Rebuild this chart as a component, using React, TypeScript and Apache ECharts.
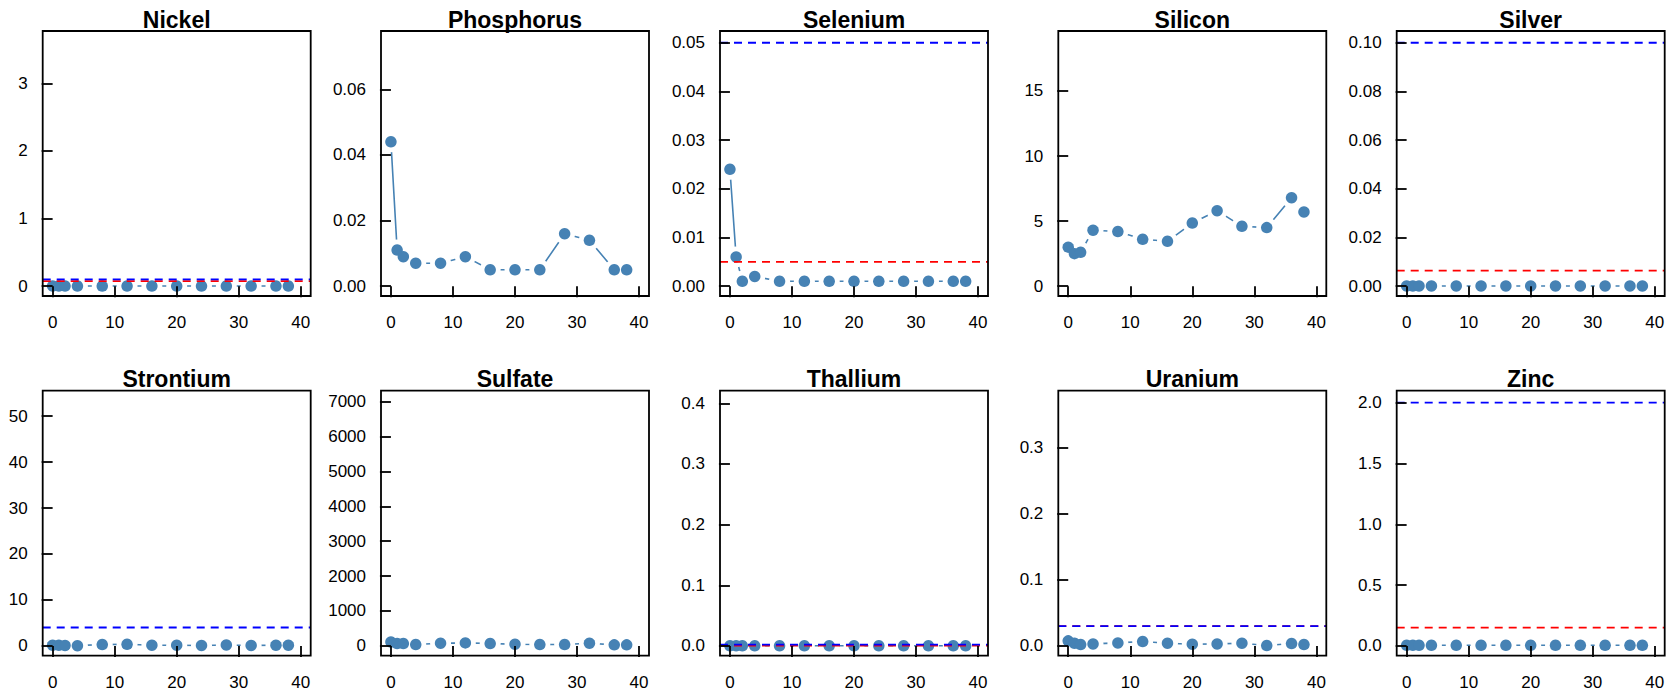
import React, { useEffect, useRef } from "react";
import * as echarts from "echarts";

// Sampling days (x)
const days = [0, 1, 2, 4, 8, 12, 16, 20, 24, 28, 32, 36, 38];
const xTicks = [0, 10, 20, 30, 40];

const analytes = [
  "Nickel", "Phosphorus", "Selenium", "Silicon", "Silver",
  "Strontium", "Sulfate", "Thallium", "Uranium", "Zinc",
];

// Concentrations per analyte (one value per day)
const nickel = [0.003, 0.002, 0.002, 0.002, 0.002, 0.002, 0.002, 0.002, 0.002, 0.002, 0.002, 0.002, 0.002];
const phosphorus = [0.044, 0.011, 0.009, 0.007, 0.007, 0.009, 0.005, 0.005, 0.005, 0.016, 0.014, 0.005, 0.005];
const selenium = [0.024, 0.006, 0.001, 0.002, 0.001, 0.001, 0.001, 0.001, 0.001, 0.001, 0.001, 0.001, 0.001];
const silicon = [3.0, 2.5, 2.6, 4.3, 4.2, 3.6, 3.45, 4.85, 5.8, 4.6, 4.5, 6.8, 5.7];
const silver = [0.0001, 0.0001, 0.0001, 0.0001, 0.0001, 0.0001, 0.0001, 0.0001, 0.0001, 0.0001, 0.0001, 0.0001, 0.0001];
const strontium = [0.15, 0.15, 0.1, 0.05, 0.3, 0.35, 0.15, 0.15, 0.1, 0.2, 0.1, 0.15, 0.15];
const sulfate = [114, 67, 67, 38, 76, 86, 67, 48, 38, 38, 76, 29, 29];
const thallium = [0.0001, 0.0001, 0.0001, 0.0001, 0.0001, 0.0001, 0.0001, 0.0001, 0.0001, 0.0001, 0.0001, 0.0001, 0.0001];
const uranium = [0.0076, 0.004, 0.002, 0.003, 0.0045, 0.0066, 0.004, 0.0025, 0.003, 0.004, 0.0005, 0.0035, 0.002];
const zinc = [0.005, 0.005, 0.005, 0.005, 0.005, 0.005, 0.005, 0.005, 0.005, 0.005, 0.005, 0.005, 0.005];

const seriesValues = [nickel, phosphorus, selenium, silicon, silver, strontium, sulfate, thallium, uranium, zinc];

// Reference limits (dashed lines)
const blueLimits = [0.1, null, 0.05, null, 0.1, 4, null, 0.002, 0.03, 2.0];
const redLimits = [0.074, null, 0.005, null, 0.0064, null, null, 0.0003, 0.03, 0.15];

// Upper data limit of each y axis, and tick labels
const yUpper = [3.63, 0.0748, 0.0504, 18.85, 0.1008, 53.4, 7033, 0.4047, 0.371, 2.018];
const yTicks = [
  [0, 1, 2, 3],
  [0, 0.02, 0.04, 0.06],
  [0, 0.01, 0.02, 0.03, 0.04, 0.05],
  [0, 5, 10, 15],
  [0, 0.02, 0.04, 0.06, 0.08, 0.1],
  [0, 10, 20, 30, 40, 50],
  [0, 1000, 2000, 3000, 4000, 5000, 6000, 7000],
  [0, 0.1, 0.2, 0.3, 0.4],
  [0, 0.1, 0.2, 0.3],
  [0, 0.5, 1.0, 1.5, 2.0],
];
const yDecimals = [0, 2, 2, 0, 2, 0, 0, 1, 1, 1];

const X_MIN = -1.6;
const X_MAX = 41.6;
const colLeft = [42.7, 381, 720, 1058.3, 1396.7];
const rowTop = [31, 390.7];
const PW = 268;
const PH = 265;
const FONT = "'Liberation Sans', Arial, Helvetica, sans-serif";
const STEEL = "#4682B4";

export default function App() {
  const ref = useRef<HTMLDivElement>(null);
  useEffect(() => {
    if (!ref.current) return;
    const chart = echarts.init(ref.current, undefined, { renderer: "svg" });
    const grids: any[] = [];
    const xAxes: any[] = [];
    const yAxes: any[] = [];
    const series: any[] = [];
    const graphics: any[] = [];

    analytes.forEach((name, i) => {
      const r = Math.floor(i / 5);
      const c = i % 5;
      const left = colLeft[c];
      const top = rowTop[r];
      grids.push({
        left, top, width: PW, height: PH,
        show: false, containLabel: false,
      });
      xAxes.push({
        type: "value", gridIndex: i, min: X_MIN, max: X_MAX, z: 10,
        axisLine: { show: false },
        splitLine: { show: false },
        axisTick: { show: true, length: 11, customValues: xTicks, lineStyle: { color: "#000", width: 1.8 } },
        axisLabel: { show: true, customValues: xTicks, margin: 18, color: "#000", fontSize: 17, fontFamily: FONT },
      });
      const M = yUpper[i];
      const dec = yDecimals[i];
      yAxes.push({
        type: "value", gridIndex: i, min: -0.04 * M, max: 1.04 * M, z: 10,
        axisLine: { show: false },
        splitLine: { show: false },
        axisTick: { show: true, length: 11, customValues: yTicks[i], lineStyle: { color: "#000", width: 1.8 } },
        axisLabel: {
          show: true, customValues: yTicks[i], margin: 15, color: "#000", fontSize: 17, fontFamily: FONT,
          formatter: (v: number) => Number(v).toFixed(dec),
        },
      });
      const pts = days.map((d, j) => [d, seriesValues[i][j]]);
      series.push({
        type: "line", xAxisIndex: i, yAxisIndex: i, data: pts,
        symbol: "none", showSymbol: false, silent: true, z: 2,
        lineStyle: { color: STEEL, width: 1.6 },
      });
      series.push({
        type: "scatter", xAxisIndex: i, yAxisIndex: i, data: pts,
        symbol: "circle", symbolSize: 21, silent: true, z: 3,
        itemStyle: { color: "#ffffff", opacity: 1 },
      });
      series.push({
        type: "scatter", xAxisIndex: i, yAxisIndex: i, data: pts,
        symbol: "circle", symbolSize: 11.5, silent: true, z: 4,
        itemStyle: { color: STEEL, opacity: 1 },
      });
      const red = redLimits[i];
      if (red !== null) {
        series.push({
          type: "line", xAxisIndex: i, yAxisIndex: i,
          data: [[X_MIN, red], [X_MAX, red]],
          symbol: "none", showSymbol: false, silent: true, z: 5,
          lineStyle: { color: "#FF0000", width: 1.8, type: [8, 6] },
        });
      }
      const blue = blueLimits[i];
      if (blue !== null) {
        series.push({
          type: "line", xAxisIndex: i, yAxisIndex: i,
          data: [[X_MIN, blue], [X_MAX, blue]],
          symbol: "none", showSymbol: false, silent: true, z: 6,
          lineStyle: { color: "#0000FF", width: 1.8, type: [8, 6] },
        });
      }
      // Panel box drawn above the data
      graphics.push({
        type: "rect",
        z: 100,
        silent: true,
        shape: { x: left, y: top, width: PW, height: PH },
        style: { fill: "none", stroke: "#000", lineWidth: 1.8 },
      });
      graphics.push({
        type: "text",
        z: 100,
        x: left + PW / 2,
        y: r === 0 ? 20.3 : 378.7,
        style: {
          text: name, fill: "#000", font: `bold 23px ${FONT}`,
          textAlign: "center", textVerticalAlign: "middle",
        },
      });
    });

    chart.setOption({
      animation: false,
      backgroundColor: "#ffffff",
      grid: grids,
      xAxis: xAxes,
      yAxis: yAxes,
      series,
      graphic: graphics,
    });
    return () => chart.dispose();
  }, []);
  return (
    <div
      ref={ref}
      style={{ position: "absolute", left: 0, top: 0, width: 1671, height: 692 }}
    />
  );
}
